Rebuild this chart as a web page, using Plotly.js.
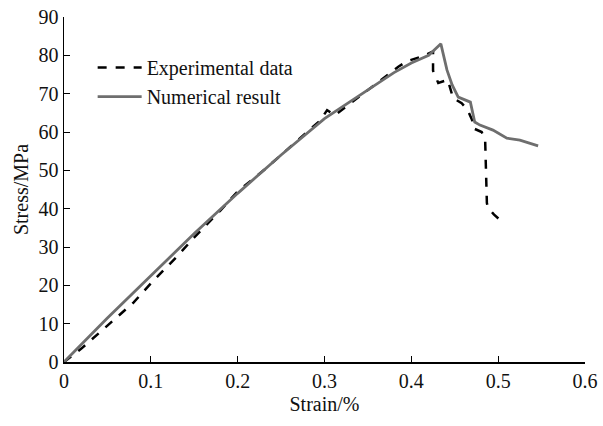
<!DOCTYPE html>
<html>
<head>
<meta charset="utf-8">
<script src="https://cdn.plot.ly/plotly-3.0.1.min.js"></script>
<style>html,body{margin:0;padding:0;background:#fff;}#chart{width:603px;height:426px;}</style>
</head>
<body>
<div id="chart"></div>
<script>
// Experimental data (strain %, stress MPa)
const expStrain = [0, 0.02, 0.05, 0.08, 0.1, 0.13, 0.15, 0.18, 0.2, 0.23, 0.25, 0.28, 0.295, 0.303, 0.312, 0.33, 0.35, 0.37, 0.385, 0.395, 0.41, 0.425, 0.425, 0.431, 0.442, 0.448, 0.458, 0.465, 0.47, 0.471, 0.481, 0.485, 0.487, 0.488, 0.495, 0.506];
const expStress = [0, 3.5, 9.5, 15.5, 20.5, 27.5, 32.5, 39.5, 44.5, 50, 54, 60, 63, 65.7, 64.4, 67.5, 71, 74.5, 77, 78.5, 79.5, 81, 76, 72.8, 73.6, 68.9, 67.5, 65.7, 63.1, 61, 60, 58, 41.5, 40.4, 38.5, 36.3];
// Numerical result
const numStrain = [0, 0.05, 0.1, 0.15, 0.2, 0.25, 0.3, 0.35, 0.38, 0.4, 0.42, 0.434, 0.441, 0.447, 0.454, 0.468, 0.473, 0.479, 0.494, 0.51, 0.525, 0.546];
const numStress = [0, 11.5, 22.5, 33.5, 44, 54, 63.5, 71, 75.5, 78, 80, 83, 76.2, 72.3, 69.1, 67.8, 62.6, 61.8, 60.5, 58.4, 57.9, 56.4];
const xTicks = [0, 0.1, 0.2, 0.3, 0.4, 0.5, 0.6];
const xTickText = ['0', '0.1', '0.2', '0.3', '0.4', '0.5', '0.6'];
const yTicks = [0, 10, 20, 30, 40, 50, 60, 70, 80, 90];

const font = {family: 'Liberation Serif, Times New Roman, serif', size: 20, color: '#111'};
const traces = [
  {x: expStrain, y: expStress, mode: 'lines', name: 'Experimental data',
   line: {color: '#000', width: 2.5, dash: 'dash'}},
  {x: numStrain, y: numStress, mode: 'lines', name: 'Numerical result',
   line: {color: '#6e6e6e', width: 2.8}}
];
const layout = {
  width: 603, height: 426,
  margin: {l: 64, r: 18, t: 17, b: 64},
  paper_bgcolor: '#fff', plot_bgcolor: '#fff',
  font: font,
  showlegend: true,
  legend: {x: 0.055, y: 0.91, xanchor: 'left', yanchor: 'top', bgcolor: 'rgba(0,0,0,0)',
           font: font, tracegroupgap: 0, itemwidth: 44},
  xaxis: {range: [0, 0.6], tickvals: xTicks, ticktext: xTickText, ticks: 'inside', ticklen: 6,
          tickcolor: '#000', showline: true, linecolor: '#000', linewidth: 1.5, showgrid: false,
          zeroline: false, tickfont: font,
          title: {text: 'Strain/%', font: font, standoff: 6}},
  yaxis: {range: [0, 90], tickvals: yTicks, ticks: 'inside', ticklen: 6,
          tickcolor: '#000', showline: true, linecolor: '#000', linewidth: 1.5, showgrid: false,
          zeroline: false, tickfont: font,
          title: {text: 'Stress/MPa', font: font, standoff: 4}}
};
Plotly.newPlot('chart', traces, layout, {displayModeBar: false, staticPlot: true});
</script>
</body>
</html>
